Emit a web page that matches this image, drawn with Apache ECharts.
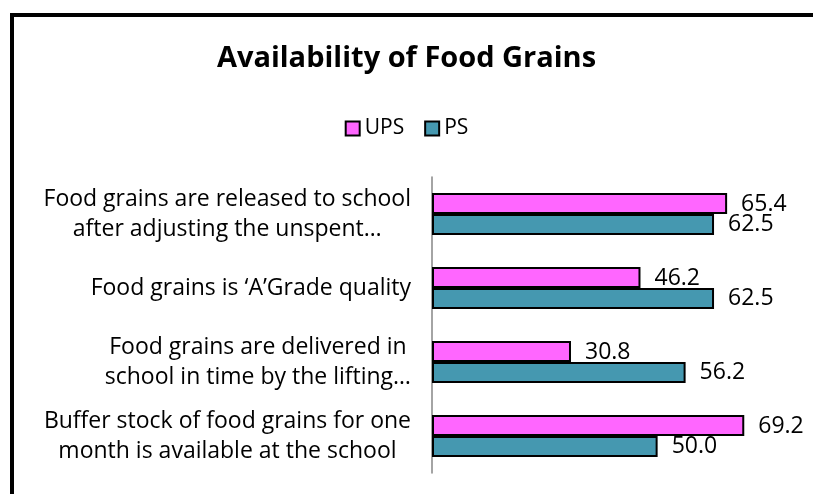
<!DOCTYPE html>
<html>
<head>
<meta charset="utf-8">
<script src="https://cdn.jsdelivr.net/npm/echarts@6/dist/echarts.min.js"></script>
<style>
  html, body { margin: 0; padding: 0; background: #fff; }
  #chart { width: 813px; height: 494px; }
</style>
</head>
<body>
<div id="chart"></div>
<script>
// data
var categories = [
    'Food grains are released to school\nafter adjusting the unspent…',
    'Food grains is ‘A’Grade quality',
    'Food grains are delivered in\nschool in time by the lifting…',
    'Buffer stock of food grains for one\nmonth is available at the school'
]
var upsData = [65.4, 46.2, 30.8, 69.2]
var psData = [62.5, 62.5, 56.2, 50.0]

var myChart = echarts.init(document.getElementById('chart'))

var font = '"Open Sans", "Noto Sans", sans-serif'

var option = {
    backgroundColor: '#fff',
    title: {
        text: 'Availability of Food Grains',
        left: 'center',
        top: 39,
        textStyle: { fontFamily: font, fontWeight: 'bold', fontSize: 29, color: '#000' }
    },
    legend: {
        data: ['UPS', 'PS'],
        top: 113,
        left: 'center',
        itemWidth: 14,
        itemHeight: 14,
        itemGap: 20,
        icon: 'rect',
        textStyle: { fontFamily: font, fontSize: 21, color: '#000', padding: [0, 0, 0, 0] }
    },
    graphic: [{
        type: 'rect',
        shape: { x: 12, y: 15, width: 900, height: 600 },
        style: { fill: 'none', stroke: '#000', lineWidth: 4 },
        silent: true
    }],
    grid: { left: 432, right: 20, top: 177, bottom: 21 },
    xAxis: {
        type: 'value',
        min: 0,
        max: 80,
        show: false,
        splitLine: { show: false }
    },
    yAxis: {
        type: 'category',
        inverse: true,
        data: categories,
        axisLine: { lineStyle: { color: '#868686', width: 1.5 } },
        axisTick: { show: false },
        axisLabel: {
            margin: 21,
            align: 'right',
            fontFamily: font,
            fontSize: 23,
            color: '#000',
            lineHeight: 30,
            formatter: function (v) {
                return v.split('\n').map(function (s) { return '{c|' + s + '}' }).join('\n')
            },
            rich: {
                c: { align: 'center', fontFamily: font, fontSize: 23, lineHeight: 30, color: '#000' }
            }
        }
    },
    series: [
        {
            name: 'UPS',
            type: 'bar',
            data: upsData,
            barGap: '0%',
            barCategoryGap: '43%',
            itemStyle: { color: '#FF66FF', borderColor: '#000', borderWidth: 2 },
            label: {
                show: true, position: 'right', distance: 14, offset: [0, 1],
                fontFamily: font, fontSize: 23, color: '#000',
                formatter: function (p) { return p.value.toFixed(1) }
            }
        },
        {
            name: 'PS',
            type: 'bar',
            data: psData,
            itemStyle: { color: '#4598B0', borderColor: '#000', borderWidth: 2 },
            label: {
                show: true, position: 'right', distance: 14, offset: [0, 0],
                fontFamily: font, fontSize: 23, color: '#000',
                formatter: function (p) { return p.value.toFixed(1) }
            }
        }
    ]
}

myChart.setOption(option)
</script>
</body>
</html>
